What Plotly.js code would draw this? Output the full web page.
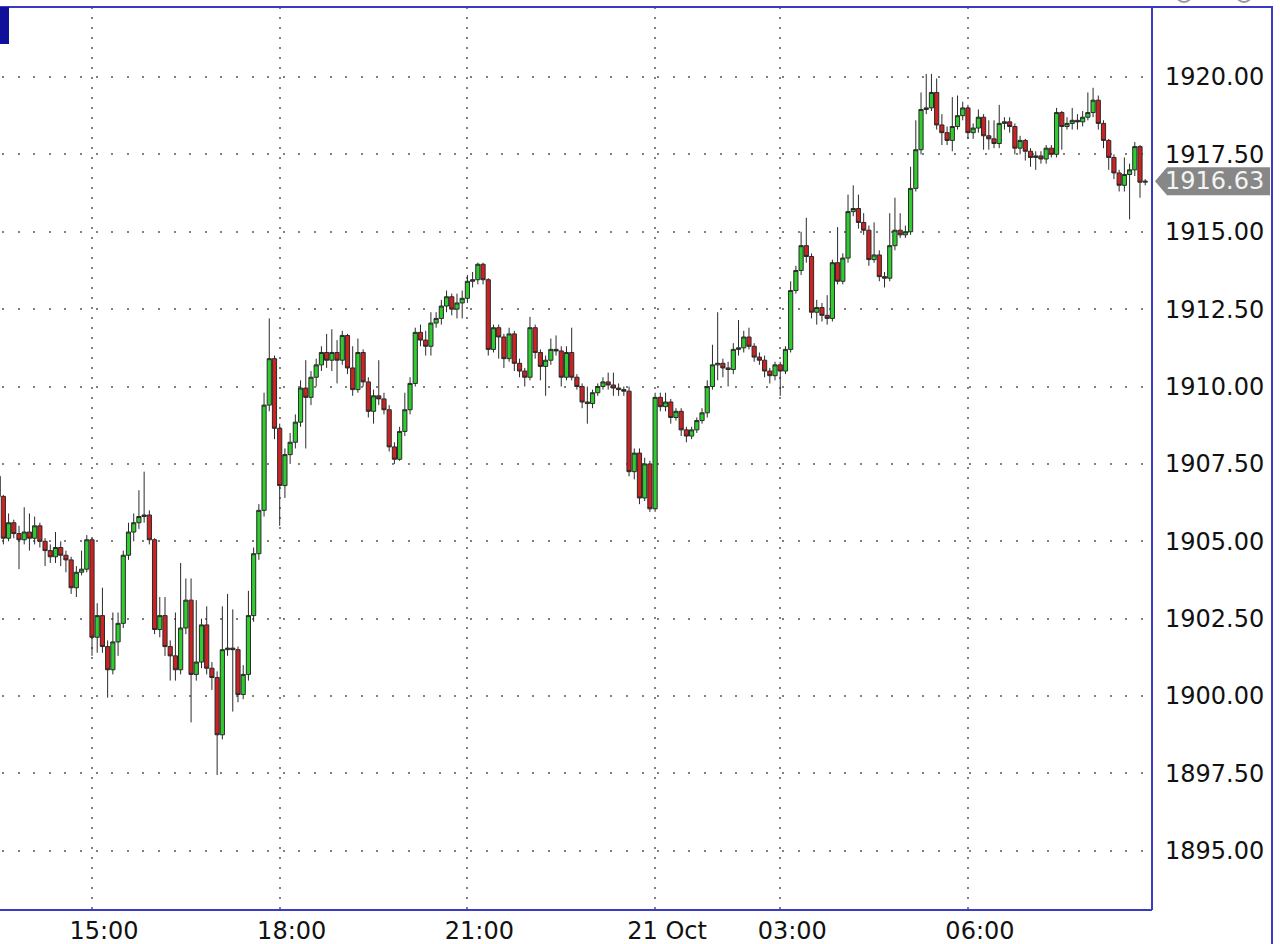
<!DOCTYPE html>
<html>
<head>
<meta charset="utf-8">
<script src="https://cdn.plot.ly/plotly-3.0.1.min.js"></script>
<style>
html,body{margin:0;padding:0;background:#fff;}
#chart{width:1280px;height:944px;}
</style>
</head>
<body>
<div id="chart"></div>
<script>
// 5-minute candle times, 20 Oct (afternoon/evening) and 21 Oct (after the daily break)
const day1Times = [
"13:30","13:35","13:40","13:45","13:50","13:55",
"14:00","14:05","14:10","14:15","14:20","14:25","14:30","14:35","14:40","14:45","14:50","14:55",
"15:00","15:05","15:10","15:15","15:20","15:25","15:30","15:35","15:40","15:45","15:50","15:55",
"16:00","16:05","16:10","16:15","16:20","16:25","16:30","16:35","16:40","16:45","16:50","16:55",
"17:00","17:05","17:10","17:15","17:20","17:25","17:30","17:35","17:40","17:45","17:50","17:55",
"18:00","18:05","18:10","18:15","18:20","18:25","18:30","18:35","18:40","18:45","18:50","18:55",
"19:00","19:05","19:10","19:15","19:20","19:25","19:30","19:35","19:40","19:45","19:50","19:55",
"20:00","20:05","20:10","20:15","20:20","20:25","20:30","20:35","20:40","20:45","20:50","20:55",
"21:00","21:05","21:10","21:15","21:20","21:25","21:30","21:35","21:40","21:45","21:50","21:55",
"22:00","22:05","22:10","22:15","22:20","22:25","22:30","22:35","22:40","22:45","22:50","22:55",
"23:00","23:05","23:10","23:15","23:20","23:25","23:30","23:35","23:40","23:45","23:50","23:55"
];
const day2Times = [
"01:00","01:05","01:10","01:15","01:20","01:25","01:30","01:35","01:40","01:45","01:50","01:55",
"02:00","02:05","02:10","02:15","02:20","02:25","02:30","02:35","02:40","02:45","02:50","02:55",
"03:00","03:05","03:10","03:15","03:20","03:25","03:30","03:35","03:40","03:45","03:50","03:55",
"04:00","04:05","04:10","04:15","04:20","04:25","04:30","04:35","04:40","04:45","04:50","04:55",
"05:00","05:05","05:10","05:15","05:20","05:25","05:30","05:35","05:40","05:45","05:50","05:55",
"06:00","06:05","06:10","06:15","06:20","06:25","06:30","06:35","06:40","06:45","06:50","06:55",
"07:00","07:05","07:10","07:15","07:20","07:25","07:30","07:35","07:40","07:45","07:50","07:55",
"08:00","08:05","08:10","08:15","08:20","08:25","08:30","08:35","08:40","08:45","08:50"
];

const openPrices = [
1907.1,1906.45,1905.1,1905.6,1905.25,1905.05,1905.3,1905.1,1905.5,1905.0,
1904.7,1904.5,1904.8,1904.55,1904.4,1903.5,1904.0,1904.1,1905.05,1901.9,
1902.6,1901.6,1900.85,1901.75,1902.35,1904.55,1905.3,1905.6,1905.8,1905.85,
1905.05,1902.15,1902.6,1901.6,1901.3,1900.85,1902.2,1903.1,1900.7,1901.1,
1902.3,1900.9,1900.6,1898.75,1901.5,1901.55,1901.5,1900.05,1900.7,1902.6,
1904.6,1906.0,1909.4,1910.9,1908.65,1906.8,1907.8,1908.2,1908.85,1909.95,
1909.65,1910.3,1910.7,1911.1,1910.85,1911.1,1910.85,1911.65,1910.6,1909.9,
1911.1,1910.15,1909.2,1909.7,1909.6,1909.25,1908.05,1907.65,1908.55,1909.25,
1910.1,1911.75,1911.5,1911.3,1912.05,1912.2,1912.6,1912.9,1912.5,1912.7,
1912.85,1913.4,1913.45,1913.95,1913.45,1911.2,1911.9,1911.6,1910.9,1911.7,
1910.75,1910.5,1910.3,1911.9,1911.1,1910.65,1910.85,1911.2,1911.15,1910.3,
1911.1,1910.3,1910.0,1909.5,1909.45,1909.8,1910.0,1910.15,1910.05,1909.95,
1909.9,1909.85,1907.25,1907.85,1906.4,1907.5,1906.05,1909.65,1909.35,1909.5,
1909.0,1909.2,1908.6,1908.4,1908.6,1908.9,1909.15,1910.0,1910.7,1910.75,
1910.6,1910.55,1911.2,1911.25,1911.6,1911.3,1910.95,1910.85,1910.5,1910.35,
1910.7,1910.5,1911.2,1913.1,1913.75,1914.55,1914.2,1912.4,1912.55,1912.3,
1912.2,1914.0,1913.4,1914.15,1915.65,1915.75,1915.3,1915.05,1914.1,1914.25,
1913.55,1913.5,1914.55,1915.05,1914.9,1915.0,1916.4,1917.65,1918.95,1919.0,
1919.5,1918.45,1918.2,1917.95,1918.4,1918.75,1919.0,1918.2,1918.35,1918.7,
1918.1,1918.0,1917.85,1918.5,1918.55,1918.4,1917.7,1917.95,1917.6,1917.4,
1917.45,1917.35,1917.7,1917.5,1918.85,1918.4,1918.5,1918.6,1918.55,1918.7,
1918.85,1919.25,1918.5,1917.95,1917.4,1916.9,1916.5,1916.85,1917.0,1917.75,
1916.6
];
const highPrices = [
1907.3,1906.5,1905.9,1905.7,1905.5,1906.1,1905.9,1905.8,1905.6,1905.1,
1904.9,1905.3,1905.0,1904.7,1904.5,1904.2,1904.7,1905.2,1905.1,1903.0,
1903.5,1901.8,1902.7,1902.7,1904.7,1905.6,1905.9,1906.65,1907.25,1906.0,
1905.1,1903.2,1903.2,1901.8,1902.7,1904.3,1903.8,1903.8,1903.1,1902.5,
1902.9,1901.1,1900.8,1902.9,1903.3,1902.8,1901.6,1901.0,1903.4,1904.8,
1906.2,1909.8,1912.2,1911.0,1908.8,1908.0,1908.5,1909.1,1910.2,1910.85,
1910.5,1910.9,1911.3,1911.7,1911.85,1911.5,1911.8,1911.7,1911.3,1911.55,
1911.2,1910.3,1909.9,1910.85,1909.8,1909.4,1908.2,1908.7,1909.8,1910.3,
1911.9,1912.0,1911.8,1912.4,1912.4,1912.8,1913.1,1913.0,1913.0,1913.1,
1913.6,1913.7,1914.0,1914.0,1913.5,1912.0,1912.0,1911.7,1911.9,1911.8,
1910.9,1910.6,1912.25,1912.0,1911.2,1911.0,1911.55,1911.65,1911.3,1911.3,
1911.9,1910.4,1910.1,1910.0,1909.9,1910.1,1910.3,1910.45,1910.45,1910.1,
1910.0,1910.0,1908.0,1908.0,1907.7,1907.6,1909.8,1909.8,1909.8,1909.6,
1909.3,1909.3,1908.7,1908.7,1909.0,1909.3,1910.2,1911.35,1912.4,1910.9,
1910.8,1911.4,1912.15,1911.8,1911.9,1911.4,1911.1,1911.0,1910.6,1910.8,
1910.8,1911.3,1913.4,1913.9,1915.0,1915.45,1914.3,1912.8,1912.7,1912.95,
1914.1,1915.15,1914.3,1916.2,1916.5,1916.2,1915.6,1915.2,1915.3,1914.4,
1913.7,1915.6,1916.1,1915.6,1915.2,1917.1,1918.6,1919.5,1920.1,1920.1,
1919.95,1918.8,1918.4,1919.35,1919.4,1919.2,1919.1,1918.5,1918.95,1918.8,
1918.6,1918.6,1919.1,1918.7,1918.7,1918.5,1918.1,1918.0,1917.7,1917.6,
1917.6,1917.8,1917.8,1919.0,1918.9,1918.7,1919.0,1918.8,1918.9,1919.5,
1919.65,1919.4,1918.6,1918.0,1917.5,1917.0,1917.4,1917.2,1917.9,1917.8,
1916.7
];
const lowPrices = [
1906.3,1904.9,1905.0,1905.1,1904.1,1904.9,1904.7,1904.9,1904.8,1904.2,
1904.3,1904.3,1904.2,1904.0,1903.3,1903.2,1903.9,1904.0,1901.3,1901.4,
1901.4,1899.95,1900.7,1901.3,1902.2,1904.4,1905.0,1905.4,1905.6,1904.9,
1902.0,1901.9,1901.3,1900.5,1900.5,1900.7,1902.0,1899.15,1900.5,1900.9,
1900.7,1900.2,1897.45,1898.6,1901.3,1899.5,1899.8,1899.9,1900.5,1902.4,
1904.4,1905.8,1909.2,1908.3,1905.5,1906.4,1907.5,1908.0,1908.7,1908.0,
1909.4,1910.0,1910.5,1910.6,1910.5,1910.1,1910.7,1910.4,1909.7,1909.8,
1910.0,1909.0,1908.8,1909.4,1909.1,1907.9,1907.5,1907.6,1908.4,1909.1,
1910.0,1911.3,1911.0,1911.0,1911.9,1912.0,1912.4,1912.3,1912.2,1912.2,
1912.7,1913.2,1913.3,1913.3,1911.0,1911.1,1910.9,1910.6,1910.8,1910.5,
1910.3,1910.0,1910.2,1910.9,1910.2,1909.7,1910.7,1911.0,1910.0,1910.2,
1910.2,1909.9,1909.3,1908.8,1909.3,1909.7,1909.9,1909.9,1909.7,1909.7,
1909.7,1907.1,1907.0,1906.2,1906.3,1905.95,1905.95,1909.2,1909.2,1908.8,
1908.9,1908.4,1908.2,1908.3,1908.5,1908.8,1909.0,1909.9,1910.2,1910.3,
1910.0,1910.4,1911.0,1911.1,1911.2,1910.8,1910.7,1910.3,1910.1,1910.2,
1909.7,1910.4,1911.1,1913.0,1913.6,1914.0,1912.2,1912.0,1912.1,1912.0,
1912.1,1913.3,1913.3,1914.0,1915.5,1915.1,1914.9,1913.9,1914.0,1913.4,
1913.2,1913.4,1914.4,1914.8,1914.8,1914.9,1916.3,1917.5,1918.8,1918.9,
1918.3,1917.8,1917.8,1917.6,1918.3,1918.6,1918.0,1918.0,1918.2,1917.65,
1917.65,1917.7,1917.7,1918.3,1918.2,1917.5,1917.5,1917.3,1917.1,1917.0,
1917.2,1917.2,1917.4,1917.4,1917.65,1918.3,1918.3,1918.3,1918.4,1918.6,
1918.7,1918.3,1917.7,1917.0,1916.7,1916.3,1916.3,1915.4,1916.8,1916.1,
1916.5
];
const closePrices = [
1906.45,1905.1,1905.6,1905.25,1905.05,1905.3,1905.1,1905.5,1905.0,1904.7,
1904.5,1904.8,1904.55,1904.4,1903.5,1904.0,1904.1,1905.05,1901.9,1902.6,
1901.6,1900.85,1901.75,1902.35,1904.55,1905.3,1905.6,1905.8,1905.85,1905.05,
1902.15,1902.6,1901.6,1901.3,1900.85,1902.2,1903.1,1900.7,1901.1,1902.3,
1900.9,1900.6,1898.75,1901.5,1901.55,1901.5,1900.05,1900.7,1902.6,1904.6,
1906.0,1909.4,1910.9,1908.65,1906.8,1907.8,1908.2,1908.85,1909.95,1909.65,
1910.3,1910.7,1911.1,1910.85,1911.1,1910.85,1911.65,1910.6,1909.9,1911.1,
1910.15,1909.2,1909.7,1909.6,1909.25,1908.05,1907.65,1908.55,1909.25,1910.1,
1911.75,1911.5,1911.3,1912.05,1912.2,1912.6,1912.9,1912.5,1912.7,1912.85,
1913.4,1913.45,1913.95,1913.45,1911.2,1911.9,1911.6,1910.9,1911.7,1910.75,
1910.5,1910.3,1911.9,1911.1,1910.65,1910.85,1911.2,1911.15,1910.3,1911.1,
1910.3,1910.0,1909.5,1909.45,1909.8,1910.0,1910.15,1910.05,1909.95,1909.9,
1909.85,1907.25,1907.85,1906.4,1907.5,1906.05,1909.65,1909.35,1909.5,1909.0,
1909.2,1908.6,1908.4,1908.6,1908.9,1909.15,1910.0,1910.7,1910.75,1910.6,
1910.55,1911.2,1911.25,1911.6,1911.3,1910.95,1910.85,1910.5,1910.35,1910.7,
1910.5,1911.2,1913.1,1913.75,1914.55,1914.2,1912.4,1912.55,1912.3,1912.2,
1914.0,1913.4,1914.15,1915.65,1915.75,1915.3,1915.05,1914.1,1914.25,1913.55,
1913.5,1914.55,1915.05,1914.9,1915.0,1916.4,1917.65,1918.95,1919.0,1919.5,
1918.45,1918.2,1917.95,1918.4,1918.75,1919.0,1918.2,1918.35,1918.7,1918.1,
1918.0,1917.85,1918.5,1918.55,1918.4,1917.7,1917.95,1917.6,1917.4,1917.45,
1917.35,1917.7,1917.5,1918.85,1918.4,1918.5,1918.6,1918.55,1918.7,1918.85,
1919.25,1918.5,1917.95,1917.4,1916.9,1916.5,1916.85,1917.0,1917.75,1916.6,
1916.63
];

const tickTimes  = ["15:00","18:00","21:00","01:00","03:00","06:00"];
const tickLabels = ["15:00","18:00","21:00","21 Oct","03:00","06:00"];
const lastPrice = 1916.63;

const times = day1Times.concat(day2Times);

const FONT = "DejaVu Sans, Verdana, sans-serif";
const BLUE = "#3a3ac4";

const trace = {
  type: "candlestick",
  x: times,
  open: openPrices, high: highPrices, low: lowPrices, close: closePrices,
  increasing: {fillcolor: "#2fcc2f", line: {color: "#2a2a2a", width: 1}},
  decreasing: {fillcolor: "#cc2222", line: {color: "#2a2a2a", width: 1}},
  whiskerwidth: 0,
  hoverinfo: "none",
  showlegend: false
};

const PW = 1152, PH = 903, PB = 910;
const px = v => v / PW;
const py = v => (PB - v) / PH;

const layout = {
  width: 1280, height: 944,
  margin: {l: 0, r: 128, t: 7, b: 34, pad: 0},
  paper_bgcolor: "#ffffff",
  plot_bgcolor: "#ffffff",
  showlegend: false,
  boxgap: 0.2,
  boxgroupgap: 0,
  font: {family: FONT, color: "#111111", size: 24},
  xaxis: {
    type: "category",
    categoryorder: "array",
    categoryarray: times,
    range: [0.355, 221.3],
    rangeslider: {visible: false},
    tickmode: "array",
    tickvals: tickTimes,
    ticktext: tickLabels,
    ticks: "",
    ticklabelshift: 12,
    ticklabelstandoff: 4,
    tickfont: {family: FONT, size: 24, color: "#111111"},
    showgrid: true,
    gridcolor: "#808080",
    gridwidth: 2,
    griddash: "2px,8px",
    zeroline: false,
    showline: false,
    fixedrange: true
  },
  yaxis: {
    side: "right",
    range: [1893.09, 1922.26],
    tick0: 1895, dtick: 2.5,
    tickformat: ".2f",
    ticks: "",
    ticklabelstandoff: 12,
    tickfont: {family: FONT, size: 24, color: "#111111"},
    showgrid: true,
    gridcolor: "#808080",
    gridwidth: 2,
    griddash: "0px,2px,2px,11.6px",
    zeroline: false,
    showline: false,
    fixedrange: true
  },
  shapes: [
    // frame
    {type: "line", xref: "paper", yref: "paper", x0: 0, x1: px(1273), y0: 1, y1: 1, line: {color: BLUE, width: 2}},
    {type: "line", xref: "paper", yref: "paper", x0: 0, x1: 1, y0: 0, y1: 0, line: {color: BLUE, width: 2}},
    {type: "line", xref: "paper", yref: "paper", x0: 1, x1: 1, y0: 0, y1: 1, line: {color: BLUE, width: 2}},
    {type: "line", xref: "paper", yref: "paper", x0: px(1272), x1: px(1272), y0: py(944), y1: 1, line: {color: BLUE, width: 2}},
    // navy tab top-left
    {type: "rect", xref: "paper", yref: "paper", x0: 0, x1: px(9), y0: py(44), y1: py(7), fillcolor: "#10109a", line: {width: 0}},
    // partially visible icons at top right
    {type: "circle", xref: "paper", yref: "paper", x0: px(1176), x1: px(1192), y0: py(2), y1: py(-14), line: {color: "#9a9a9a", width: 2}},
    {type: "circle", xref: "paper", yref: "paper", x0: px(1236), x1: px(1252), y0: py(2), y1: py(-14), line: {color: "#9a9a9a", width: 2}},
    // last price marker
    {type: "path", xref: "paper", yref: "y", xsizemode: "pixel", ysizemode: "pixel",
     xanchor: 1, yanchor: lastPrice,
     path: "M 3,0 L 15,14 L 118,14 L 118,-14 L 15,-14 Z",
     fillcolor: "#878787", line: {width: 0}}
  ],
  annotations: [
    {xref: "paper", yref: "y", x: 1, y: lastPrice, xanchor: "left", yanchor: "middle",
     xshift: 11, text: lastPrice.toFixed(2), showarrow: false,
     font: {family: FONT, size: 24, color: "#f4f4f4"}}
  ]
};

Plotly.newPlot("chart", [trace], layout, {staticPlot: true, displayModeBar: false});
</script>
</body>
</html>
